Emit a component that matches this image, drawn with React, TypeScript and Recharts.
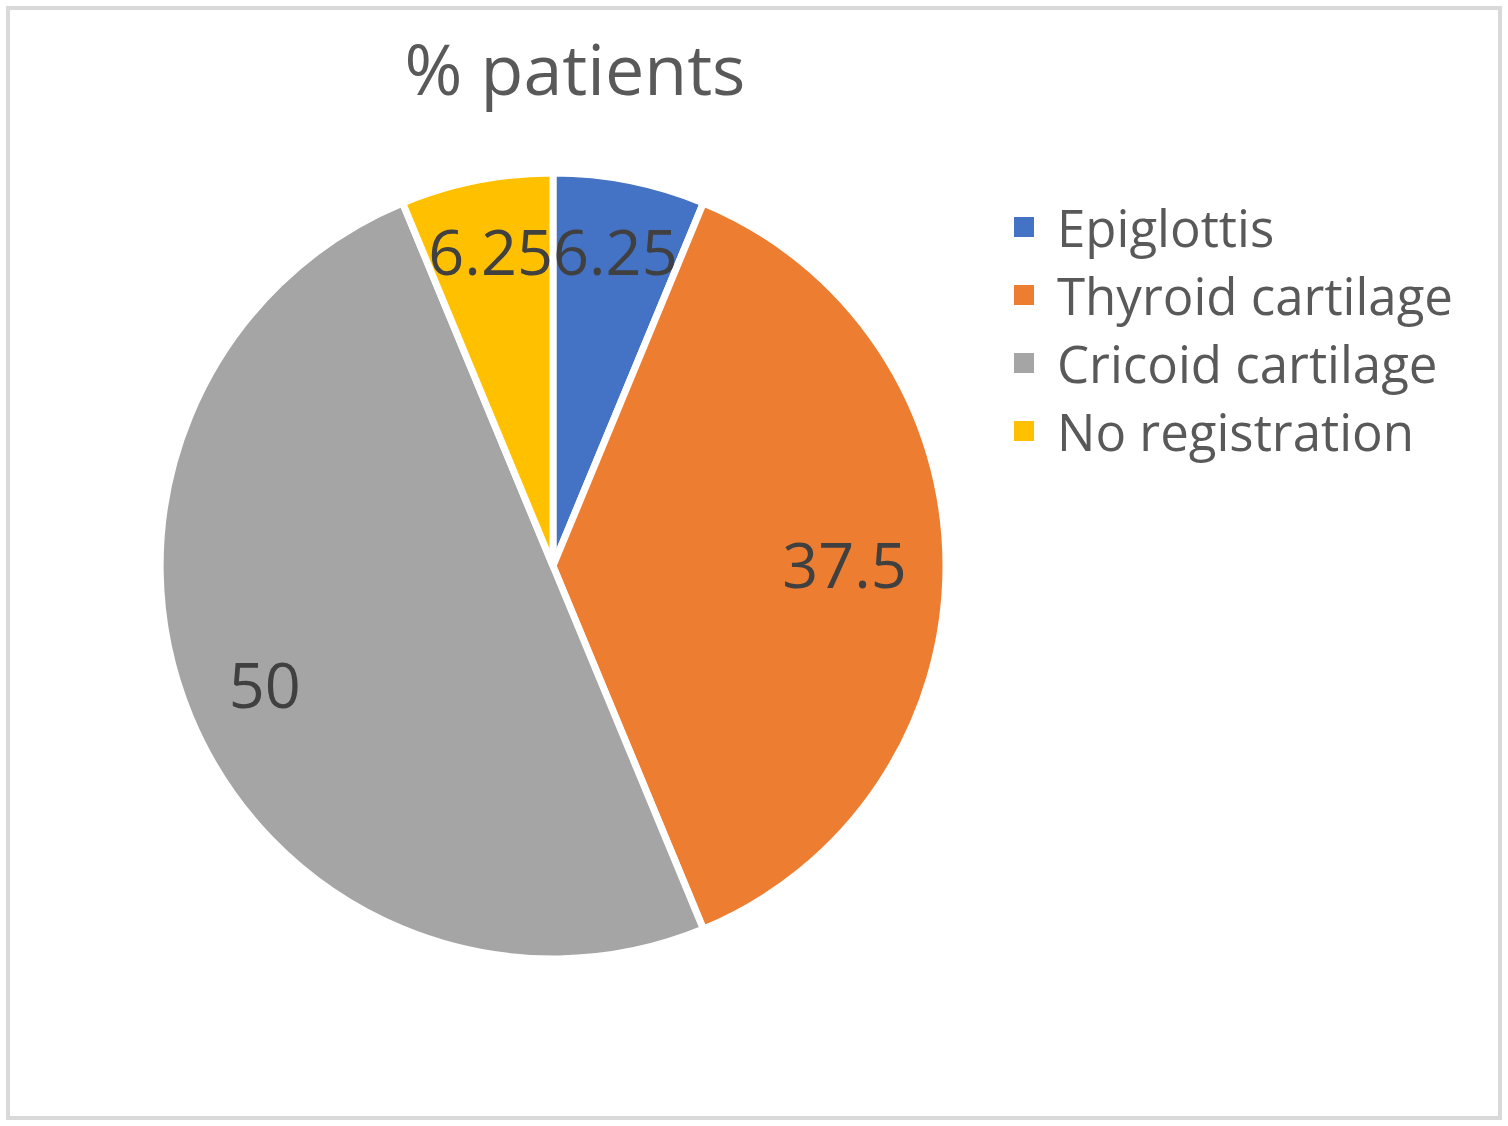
import { PieChart, Pie, Cell, Legend } from "recharts";

const sites = ["Epiglottis", "Thyroid cartilage", "Cricoid cartilage", "No registration"];
const percents = [6.25, 37.5, 50, 6.25];
const colors = ["#4472C4", "#ED7D31", "#A5A5A5", "#FFC000"];

const data = sites.map((name, i) => ({ name, value: percents[i] }));

const RAD = Math.PI / 180;
const FONT = "'Open Sans', sans-serif";
const LABEL_SIZE = 63;

// "inside end" style: push the label box out until it sits a fixed gap inside the rim
const renderLabel = (props: any) => {
  const { cx, cy, midAngle, outerRadius, value } = props;
  const txt = String(value);
  const w = txt.split("").reduce((s, c) => s + (c === "." ? 0.267 : 0.572), 0) * LABEL_SIZE;
  const hw = w / 2;
  const hh = 0.36 * LABEL_SIZE;
  const cos = Math.cos(-midAngle * RAD);
  const sin = Math.sin(-midAngle * RAD);
  const r = outerRadius - 39 - (hw * Math.abs(cos) + hh * Math.abs(sin));
  const x = cx + r * cos;
  const y = cy + r * sin;
  return (
    <text
      x={x}
      y={y + 0.357 * LABEL_SIZE}
      textAnchor="middle"
      fill="#404040"
      fontSize={LABEL_SIZE}
      fontFamily={FONT}
    >
      {txt}
    </text>
  );
};

// legend keeps the data order (recharts would sort it by name)
const renderLegend = () => (
  <div style={{ fontFamily: FONT }}>
    {sites.map((name, i) => (
      <div key={name} style={{ display: "flex", alignItems: "center", height: 68 }}>
        <span
          style={{
            display: "inline-block",
            width: 20,
            height: 20,
            background: colors[i],
            marginRight: 23,
          }}
        />
        <span style={{ fontSize: 51, color: "#595959", lineHeight: "68px" }}>{name}</span>
      </div>
    ))}
  </div>
);

export default function App() {
  return (
    <div style={{ position: "absolute", left: 0, top: 0, width: 1508, height: 1126, background: "#fff" }}>
      <svg
        width={1508}
        height={1126}
        style={{ position: "absolute", left: 0, top: 0, pointerEvents: "none" }}
      >
        <rect x={8} y={8} width={1492} height={1110} fill="none" stroke="#D9D9D9" strokeWidth={4} />
        <text x={575} y={95} textAnchor="middle" fill="#595959" fontSize={70} fontFamily={FONT}>
          % patients
        </text>
      </svg>
      <div style={{ position: "absolute", left: 0, top: 0 }}>
        <PieChart width={1508} height={1126} margin={{ top: 0, right: 0, bottom: 0, left: 0 }}>
          <Pie
            data={data}
            dataKey="value"
            nameKey="name"
            cx={553}
            cy={566}
            outerRadius={393}
            startAngle={90}
            endAngle={-270}
            stroke="#fff"
            strokeWidth={7}
            label={renderLabel}
            labelLine={false}
            isAnimationActive={false}
          >
            {data.map((d, i) => (
              <Cell key={d.name} fill={colors[i]} />
            ))}
          </Pie>
          <Legend
            layout="vertical"
            verticalAlign="top"
            align="right"
            content={renderLegend}
            wrapperStyle={{ left: 1014, top: 193, right: "auto", width: 480 }}
          />
        </PieChart>
      </div>
    </div>
  );
}
